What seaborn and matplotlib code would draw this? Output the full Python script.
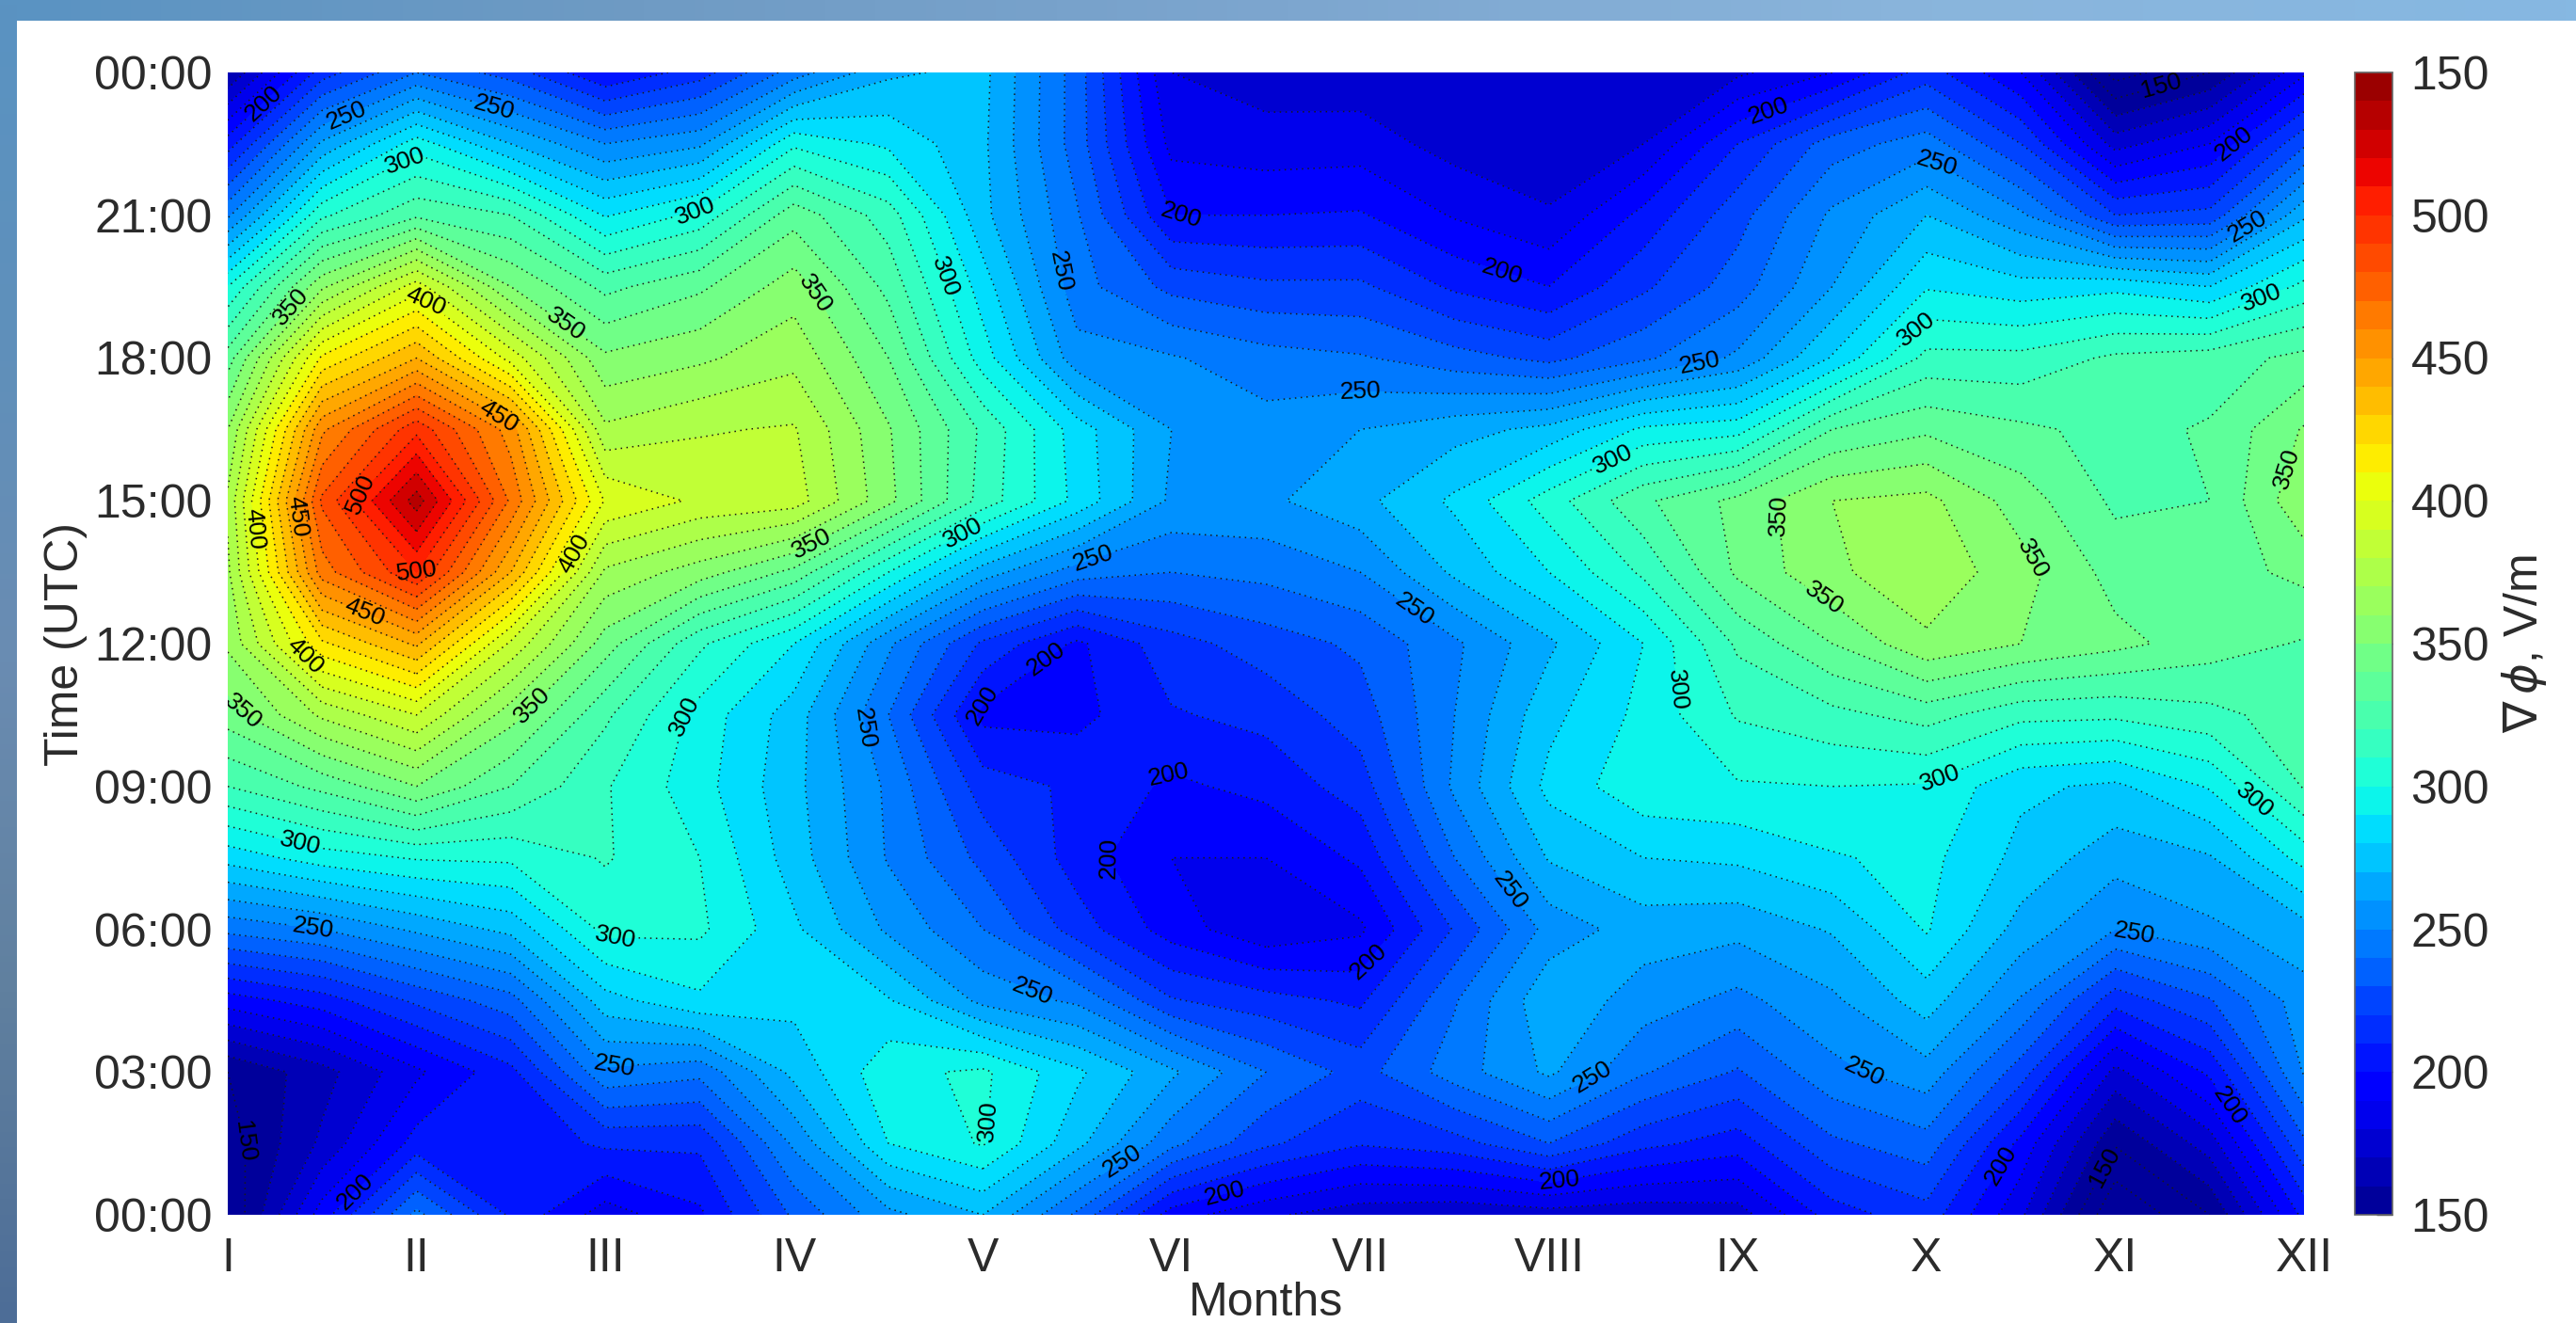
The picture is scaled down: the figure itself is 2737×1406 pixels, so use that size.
import numpy as np
import matplotlib
matplotlib.use("Agg")
import matplotlib.pyplot as plt
from matplotlib.cm import ScalarMappable
from matplotlib.colors import ListedColormap, BoundaryNorm, LinearSegmentedColormap
import seaborn as sns

month_labels = ["I","II","III","IV","V","VI","VII","VIII","IX","X","XI","XII"]
month_ticks = list(range(1, 13))
month_grid = np.arange(1, 12.01, 0.5)
hours = np.arange(0, 24.1, 1.5)
hour_ticks = [0,3,6,9,12,15,18,21,24]
hour_labels = ["00:00","03:00","06:00","09:00","12:00","15:00","18:00","21:00","00:00"]
cbar_ticks = [150,200,250,300,350,400,450,500,550]
cbar_labels = ["150","200","250","300","350","400","450","500","150"]

c_01_0 = [140,145,150,195,243,284,320,345,362,368,372,360,335,300,248,205,160]
c_01_5 = [195,172,166,205,250,295,333,372,418,465,482,458,412,358,308,262,215]
c_02_0 = [243,204,188,222,262,301,350,390,442,500,535,497,440,395,328,295,240]
c_02_5 = [208,203,207,236,273,302,330,354,388,440,468,455,396,350,320,270,225]
c_03_0 = [185,212,248,276,303,311,311,322,345,368,399,372,352,327,289,250,200]
c_03_5 = [198,212,243,288,302,300,294,296,312,355,388,379,358,338,303,258,215]
c_04_0 = [232,252,273,283,282,275,273,275,290,337,385,381,367,355,336,298,245]
c_04_5 = [257,290,297,281,258,249,248,240,252,300,353,351,340,327,315,288,268]
c_05_0 = [270,301,302,257,240,227,215,197,218,265,316,318,295,285,273,272,273]
c_05_5 = [238,273,282,248,215,205,208,197,198,245,287,285,254,244,241,235,235]
c_06_0 = [195,243,262,221,195,190,198,209,216,240,258,260,251,227,200,187,180]
c_06_5 = [182,222,240,214,182,190,203,213,225,243,258,254,244,222,200,184,175]
c_07_0 = [174,211,226,208,188,202,215,225,232,250,267,260,241,222,201,185,174]
c_07_5 = [172,216,245,239,221,240,252,250,248,272,282,266,234,208,189,176,172]
c_08_0 = [175,230,262,268,254,271,283,277,268,290,305,273,227,200,181,174,172]
c_08_5 = [173,213,241,255,265,280,297,293,290,312,328,292,238,218,203,180,174]
c_09_0 = [175,205,229,247,263,282,299,311,322,342,343,296,252,235,226,210,178]
c_09_5 = [205,228,247,258,271,289,300,317,340,358,360,330,281,260,252,235,190]
c_10_0 = [216,236,256,275,291,293,299,324,358,367,363,338,313,289,270,245,215]
c_10_5 = [182,197,225,249,266,277,282,313,350,354,345,332,313,284,252,220,190]
c_11_0 = [130,151,177,214,250,264,278,312,343,336,328,327,322,287,220,176,135]
c_11_5 = [150,175,202,229,258,269,291,317,335,335,330,331,325,280,223,190,150]
c_12_0 = [203,228,251,256,266,294,321,325,329,343,358,351,333,303,268,228,188]

labels_150 = [(11.26,23.5),(1.07,1.52),(10.9,1.1)]
labels_200 = [(1.23,23.17),(9.16,23.24),(11.65,22.4),(6.05,21.03),(7.73,19.54),(5.23,12.26),(4.82,11.15),
              (5.99,9.22),(5.58,7.32),(7.08,5.21),(11.6,2.28),(1.59,.83),(10.37,1.1),(6.27,.59),(8.06,.66)]
labels_250 = [(1.62,23.17),(2.42,23.38),(11.70,20.75),(10.04,22.0),(5.39,19.8),(8.80,17.9),(7.0,17.2),(5.59,13.74),
              (7.30,12.81),(4.30,10.15),(7.78,6.77),(1.45,5.97),(11.10,5.94),(5.27,4.77),(3.05,2.93),(9.65,2.87),
              (8.27,2.56),(5.73,1.17)]
labels_300 = [(1.93,22.2),(3.47,21.17),(11.78,19.2),(4.72,19.58),(10.0,18.4),(8.34,15.85),(4.91,14.19),(8.62,11.0),
              (3.40,10.5),(10.06,9.29),(11.73,8.67),(1.38,7.73),(3.05,5.42),(5.14,1.93)]
labels_350 = [(4.12,19.37),(1.30,19.2),(2.77,18.58),(11.9,15.68),(9.09,14.64),(4.11,13.95),(10.52,13.67),(9.43,12.78),
              (2.64,10.6),(1.11,10.67)]
labels_400 = [(2.07,19.3),(1.13,14.4),(2.85,13.85),(1.40,11.7)]
labels_450 = [(2.44,16.8),(1.32,14.64),(1.71,12.5)]
labels_500 = [(1.59,15.57),(2.01,13.5)]

W, H = 2737, 1406
sns.set_theme(style="white")
plt.rcParams["font.family"] = ["Liberation Sans", "DejaVu Sans"]
plt.rcParams["mathtext.fontset"] = "dejavusans"
ink = "#2b2b2b"
fig = plt.figure(figsize=(W/100, H/100), dpi=100, facecolor="white")

def box(l, t, r, b):
    return [l/W, 1-b/H, (r-l)/W, (b-t)/H]

top_cm = LinearSegmentedColormap.from_list("t", ["#5a93c2","#6f9bc4","#7da6cf","#8ab5dc","#86b8e2"])
left_cm = LinearSegmentedColormap.from_list("l", ["#5a93c2","#5f90bb","#6a8cb2","#60809f","#4d6d97"])
at = fig.add_axes(box(0,0,W,22)); at.imshow(np.linspace(0,1,256)[None,:], aspect="auto", cmap=top_cm); at.axis("off")
al = fig.add_axes(box(0,0,18,H)); al.imshow(np.linspace(0,1,256)[:,None], aspect="auto", cmap=left_cm); al.axis("off")

ax = fig.add_axes(box(242,77,2448,1291))
cax = fig.add_axes(box(2502,77,2542,1291))

Z = np.array([c_01_0,c_01_5,c_02_0,c_02_5,c_03_0,c_03_5,c_04_0,c_04_5,c_05_0,c_05_5,c_06_0,c_06_5,
              c_07_0,c_07_5,c_08_0,c_08_5,c_09_0,c_09_5,c_10_0,c_10_5,c_11_0,c_11_5,c_12_0], dtype=float).T
levels = np.arange(150, 551, 10)
palette = sns.mpl_palette("jet", len(levels)-1)
cmap = ListedColormap(palette)
cmap.set_under(palette[0])
cmap.set_over(palette[-1])
norm = BoundaryNorm(levels, cmap.N)

line_kw = dict(colors="#1a1a1a", linewidths=1.1, linestyles=[(0,(1,3))])
ax.contourf(month_grid, hours, Z, levels=levels, cmap=cmap, norm=norm, extend="min")
plain = [v for v in levels if v % 50 != 0 and v <= Z.max()] + [140]
ax.contour(month_grid, hours, Z, levels=sorted(plain), **line_kw)

for lv, pts in [(150,labels_150),(200,labels_200),(250,labels_250),(300,labels_300),
                (350,labels_350),(400,labels_400),(450,labels_450),(500,labels_500)]:
    one = ax.contour(month_grid, hours, Z, levels=[lv], **line_kw)
    ax.clabel(one, manual=pts, inline=True, inline_spacing=3, fontsize=19, colors="black", fmt="%d")

ax.set_xlim(1, 12); ax.set_ylim(0, 24)
ax.set_xticks(month_ticks); ax.set_xticklabels(month_labels)
ax.set_yticks(hour_ticks); ax.set_yticklabels(hour_labels)
ax.tick_params(axis="both", length=0, labelsize=36, labelcolor=ink)
ax.tick_params(axis="x", pad=17)
ax.tick_params(axis="y", pad=12)
ax.set_xlabel("Months", fontsize=36, color=ink, labelpad=1)
ax.set_ylabel("Time (UTC)", fontsize=36, color=ink, labelpad=5)
for s in ax.spines.values():
    s.set_visible(False)

cb = fig.colorbar(ScalarMappable(norm=norm, cmap=cmap), cax=cax, ticks=cbar_ticks, spacing="proportional")
cb.minorticks_off()
cb.ax.set_yticklabels(cbar_labels)
cb.ax.tick_params(axis="y", which="major", direction="in", length=12, width=1, color="#444444",
                  labelsize=36, labelcolor=ink, pad=14, right=True)
cb.outline.set_edgecolor("#666666"); cb.outline.set_linewidth(1.2)
cb.set_label(r"$\nabla\,\phi$, V/m", fontsize=36, color=ink, labelpad=8)
fig.savefig("out.png", dpi=100)
